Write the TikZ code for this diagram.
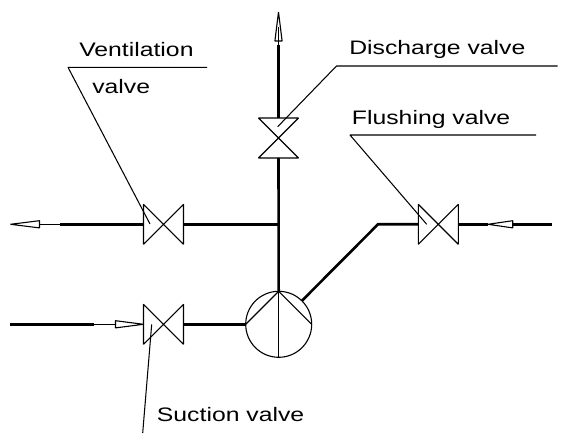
\documentclass[tikz,border=0pt]{standalone}
\usepackage{fontspec}
\setmainfont{Liberation Sans}
\tikzset{
  pipe/.style={line width=2.6pt,line cap=butt},
  thinpipe/.style={line width=1.1pt},
  outline/.style={line width=1.1pt,line join=bevel},
  leader/.style={line width=1.05pt,line join=bevel},
  valvebox/.style={minimum size=40pt,inner sep=0pt,outer sep=0pt},
  pumpbox/.style={circle,draw,line width=1.1pt,minimum size=66pt,inner sep=0pt,outer sep=0pt},
  lbl/.style={anchor=base west,inner sep=0pt,font=\fontsize{19.5}{21}\selectfont,xscale=1.27,transform shape}
}
\begin{document}
\begin{tikzpicture}[x=1pt,y=1pt]
\useasboundingbox (0,0) rectangle (581,434);
% equipment
\node[valvebox] (vvent) at (163.5,209.7) {};
\node[valvebox] (vsuct) at (163.5,109.7) {};
\node[valvebox] (vdisc) at (278.5,296) {};
\node[valvebox] (vflush) at (438.3,209.7) {};
\node[pumpbox] (pump) at (278.7,109.7) {};
% free ends
\coordinate (tee) at (278.5,209.7);
\coordinate (bend) at (378,209.7);
\coordinate (pumpout) at (302,133.3);
\coordinate (ventA) at (60,209.7);
\coordinate (ventB) at (39.5,209.7);
\coordinate (ventT) at (10.5,209.7);
\coordinate (suctS) at (10,109.7);
\coordinate (suctA) at (94,109.7);
\coordinate (suctB) at (115.5,109.7);
\coordinate (discB) at (278.5,393);
\coordinate (discA) at (278.5,389);
\coordinate (discT) at (278.5,422);
\coordinate (flushE) at (552,209.7);
\coordinate (flushB) at (512.7,209.7);
\coordinate (flushT) at (488,209.7);
% pipes
\draw[pipe] (vvent.west) -- (ventA);
\draw[thinpipe] (ventA) -- (ventB);
\draw[pipe] (vvent.east) -- (tee);
\draw[pipe] (vdisc.south) -- (pump.north);
\draw[pipe] (vdisc.north) -- (discA);
\draw[thinpipe] (discA) -- (discB);
\draw[pipe] (suctS) -- (suctA);
\draw[thinpipe] (suctA) -- (suctB);
\draw[pipe] (vsuct.east) -- (pump.west);
\draw[pipe,line join=miter] (pumpout) -- (bend) -- (vflush.west);
\draw[pipe] (vflush.east) -- (flushT);
\draw[pipe] (flushB) -- (flushE);
% arrowheads
\draw[outline,fill=white] (ventT) -- ([yshift=3.6pt]ventB) -- ([yshift=-3.6pt]ventB) -- cycle;
\draw[outline,fill=white] (vsuct.west) -- ([yshift=3.6pt]suctB) -- ([yshift=-3.6pt]suctB) -- cycle;
\draw[outline,fill=white] (flushT) -- ([yshift=3.6pt]flushB) -- ([yshift=-3.6pt]flushB) -- cycle;
\draw[outline] (discT) -- ([xshift=3.6pt]discB) -- ([xshift=-3.6pt]discB) -- cycle;
\draw[thinpipe] (discB) -- ([yshift=14pt]discB);
% valves
\foreach \v in {vvent,vsuct,vflush}
  \draw[outline] (\v.north west) -- (\v.south east) -- (\v.north east) -- (\v.south west) -- cycle;
\draw[outline] (vdisc.north west) -- (vdisc.north east) -- (vdisc.south west) -- (vdisc.south east) -- cycle;
% pump
\draw[outline] (pump.west) -- (pump.north) -- (pump.east);
\draw[outline] (pump.north) -- (pump.south);
% leaders
\coordinate (l1a) at (150,210);
\coordinate (l1b) at (68,366.7);
\coordinate (l1c) at (207,366.7);
\coordinate (l2a) at (277.7,307.3);
\coordinate (l2b) at (336.5,368);
\coordinate (l2c) at (557.5,368);
\coordinate (l3a) at (426.7,209.7);
\coordinate (l3b) at (350,299);
\coordinate (l3c) at (536,299);
\coordinate (l4a) at (151.7,109.7);
\coordinate (l4b) at (142.7,1);
\draw[leader] (l1a) -- (l1b) -- (l1c);
\draw[leader] (l2a) -- (l2b) -- (l2c);
\draw[leader] (l3a) -- (l3b) -- (l3c);
\draw[leader] (l4a) -- (l4b);
% labels
\node[lbl] (t1) at (79,377.3) {Ventilation};
\node[lbl] (t2) at (92,340.7) {valve};
\node[lbl] (t3) at (349,379) {Discharge valve};
\node[lbl] (t4) at (351.7,309) {Flushing valve};
\node[lbl] (t5) at (156.7,13) {Suction valve};
\end{tikzpicture}
\end{document}
